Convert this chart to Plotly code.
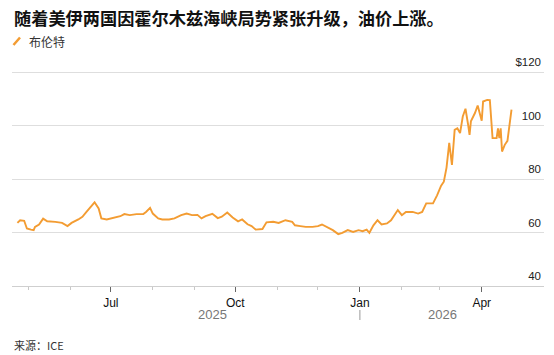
import plotly.graph_objects as go

# ---- data ----
dates = [
    "2025-04-23", "2025-04-25", "2025-04-28", "2025-04-30", "2025-05-03", "2025-05-05",
    "2025-05-06", "2025-05-09", "2025-05-12", "2025-05-15", "2025-05-21", "2025-05-26",
    "2025-05-30", "2025-06-02", "2025-06-07", "2025-06-10", "2025-06-13", "2025-06-17",
    "2025-06-19", "2025-06-22", "2025-06-24", "2025-06-28", "2025-07-03", "2025-07-08",
    "2025-07-11", "2025-07-15", "2025-07-20", "2025-07-25", "2025-07-27", "2025-07-30",
    "2025-08-01", "2025-08-05", "2025-08-08", "2025-08-13", "2025-08-17", "2025-08-22",
    "2025-08-26", "2025-08-30", "2025-09-03", "2025-09-06", "2025-09-09", "2025-09-14",
    "2025-09-18", "2025-09-21", "2025-09-25", "2025-09-29", "2025-10-03", "2025-10-06",
    "2025-10-10", "2025-10-13", "2025-10-16", "2025-10-21", "2025-10-24", "2025-10-29",
    "2025-11-02", "2025-11-07", "2025-11-12", "2025-11-14", "2025-11-18", "2025-11-22",
    "2025-11-27", "2025-12-01", "2025-12-04", "2025-12-08", "2025-12-12", "2025-12-16",
    "2025-12-19", "2025-12-23", "2025-12-27", "2025-12-31", "2026-01-03", "2026-01-06",
    "2026-01-08", "2026-01-11", "2026-01-14", "2026-01-17", "2026-01-21", "2026-01-24",
    "2026-01-29", "2026-02-01", "2026-02-04", "2026-02-09", "2026-02-13", "2026-02-16",
    "2026-02-19", "2026-02-24", "2026-02-26", "2026-02-27", "2026-03-02", "2026-03-04",
    "2026-03-06", "2026-03-08", "2026-03-10", "2026-03-12", "2026-03-14", "2026-03-16",
    "2026-03-18", "2026-03-20", "2026-03-22", "2026-03-23", "2026-03-24", "2026-03-27",
    "2026-03-29", "2026-04-01", "2026-04-02", "2026-04-05", "2026-04-07", "2026-04-09",
    "2026-04-12", "2026-04-13", "2026-04-14", "2026-04-15", "2026-04-16", "2026-04-18",
    "2026-04-20", "2026-04-23",
]
brent = [
    63.6, 64.6, 64.4, 61.5, 61.1, 60.9,
    62.1, 63.0, 65.2, 64.2, 64.0, 63.6,
    62.4, 63.6, 64.9, 65.9, 67.7, 70.2,
    71.3, 69.0, 65.3, 64.9, 65.6, 66.1,
    66.9, 66.5, 66.9, 66.9, 67.7, 69.2,
    67.1, 65.3, 64.9, 64.9, 65.3, 66.5,
    67.1, 66.5, 66.6, 65.3, 66.1, 67.0,
    65.4, 65.9, 67.5, 65.6, 64.2, 64.9,
    63.1, 62.4, 61.1, 61.3, 63.8, 64.0,
    63.6, 64.6, 64.0, 62.7, 62.4, 62.1,
    62.1, 62.4, 63.0, 61.9, 60.9, 59.4,
    59.9, 60.9, 60.2, 60.9, 60.5, 61.1,
    59.9, 62.7, 64.6, 63.0, 63.4, 64.6,
    68.4, 66.5, 67.7, 67.7, 67.1, 67.7,
    70.9, 70.9, 72.8, 73.9, 77.5, 79.0,
    84.3, 93.5, 85.3, 98.4, 99.0, 97.2,
    103.4, 106.3, 100.2, 96.5, 101.6, 104.7,
    107.5, 101.8, 109.0, 109.6, 109.5, 95.3,
    95.3, 99.0, 95.3, 99.0, 90.3, 92.8,
    94.3, 106.0,
]

x_range = ["2025-04-19", "2026-05-17"]
y_range = [40, 126.4]
major_ticks = ["2025-07-01", "2025-10-01", "2026-01-01", "2026-04-01"]
major_labels = ["Jul", "Oct", "Jan", "Apr"]
y_ticks = [40, 60, 80, 100, 120]
y_labels = ["40", "60", "80", "100", "$120"]
years = ["2025", "2026"]
year_pos = ["2025-09-14", "2026-03-03"]
year_sep = "2026-01-01"

title = "随着美伊两国因霍尔木兹海峡局势紧张升级，油价上涨。"
series_name = "布伦特"
source = "来源：ICE"

LATIN = "Liberation Sans, Arial, Noto Sans CJK SC, sans-serif"
CJK = "Noto Sans CJK SC, Liberation Sans, sans-serif"
ORANGE = "#f39c32"

W, H = 554, 355
ML, MR, MT, MB = 12, 10, 55, 69
PW = W - ML - MR
PH = H - MT - MB


def px2paper(xp, yp):
    return (xp - ML) / PW, (H - MB - yp) / PH


fig = go.Figure()
fig.add_trace(go.Scatter(
    x=dates, y=brent, mode="lines", name=series_name,
    line=dict(color=ORANGE, width=1.9), showlegend=False,
    hoverinfo="x+y",
))

fig.update_layout(
    width=W, height=H,
    margin=dict(l=ML, r=MR, t=MT, b=MB, pad=0),
    paper_bgcolor="white", plot_bgcolor="white",
    font=dict(family=LATIN, size=12, color="#222"),
    xaxis=dict(
        type="date", range=x_range,
        tickvals=major_ticks, ticktext=major_labels,
        ticks="outside", ticklen=5, tickcolor="#666", tickwidth=1,
        showline=True, linecolor="#cfcfcf", linewidth=1.2,
        showgrid=False, zeroline=False,
        tickfont=dict(family=LATIN, size=12, color="#111"),
        minor=dict(dtick="M1", tick0="2025-01-01", ticks="outside", ticklen=3,
                   tickcolor="#c8c8c8", showgrid=False),
        fixedrange=True,
    ),
    yaxis=dict(
        range=y_range, side="right",
        tickvals=y_ticks, ticktext=y_labels,
        ticklabelposition="inside top", ticklabelshift=-2,
        ticks="", showgrid=True, gridcolor="#dedede", gridwidth=1,
        zeroline=False, showline=False,
        tickfont=dict(family=LATIN, size=11.5, color="#222"),
        fixedrange=True,
    ),
)

# title
tx, ty = px2paper(12, 18)
fig.add_annotation(x=tx, y=ty, xref="paper", yref="paper", text="<b>" + title + "</b>",
                   showarrow=False, xanchor="left", yanchor="middle",
                   font=dict(family=CJK, size=17.2, color="#111"))

# legend
lx0, ly0 = px2paper(13.5, 45)
lx1, ly1 = px2paper(20, 37.5)
fig.add_shape(type="line", xref="paper", yref="paper", x0=lx0, y0=ly0, x1=lx1, y1=ly1,
              line=dict(color=ORANGE, width=2.5))
ltx, lty = px2paper(27, 41.5)
fig.add_annotation(x=ltx, y=lty, xref="paper", yref="paper", text=series_name,
                   showarrow=False, xanchor="left", yanchor="middle",
                   font=dict(family=CJK, size=12, color="#333"))

# year labels
_, yy = px2paper(0, 314)
for yr, pos in zip(years, year_pos):
    fig.add_annotation(x=pos, y=yy, xref="x", yref="paper", text=yr, showarrow=False,
                       xanchor="center", yanchor="middle",
                       font=dict(family=LATIN, size=13, color="#777"))
_, s0 = px2paper(0, 310)
_, s1 = px2paper(0, 320)
fig.add_shape(type="line", xref="x", yref="paper", x0=year_sep, x1=year_sep, y0=s0, y1=s1,
              line=dict(color="#999", width=1))

# source
sx, sy = px2paper(12, 345)
fig.add_annotation(x=sx, y=sy, xref="paper", yref="paper", text=source,
                   showarrow=False, xanchor="left", yanchor="middle",
                   font=dict(family=CJK, size=11, color="#333"))

fig.write_html("out.html", config={"displayModeBar": False})
